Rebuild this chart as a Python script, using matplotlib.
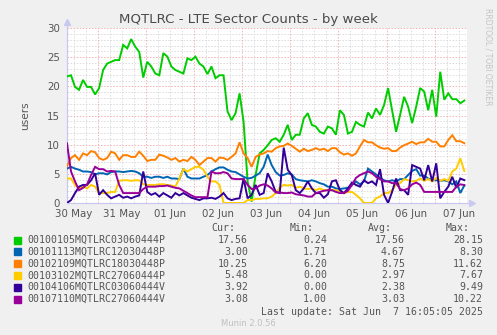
import numpy as np
import pandas as pd
import matplotlib
matplotlib.use('Agg')
import matplotlib.pyplot as plt
import matplotlib.dates as mdates

# samples every 2 hours, starting 30 May 08:45
start = pd.Timestamp('2025-05-30 08:45')
end = pd.Timestamp('2025-06-07 16:05')

# 00100105MQTLRC03060444P
green = [21.7, 21.9, 19.9, 19.4, 21.1, 19.9, 19.9, 18.6, 19.7, 22.8,
         23.9, 24.2, 24.5, 24.5, 27.1, 26.5, 28.1, 26.8, 25.9, 21.5,
         24.2, 23.4, 22.2, 21.9, 25.7, 25.1, 23.4, 22.8, 22.5, 22.2,
         24.8, 24.5, 25.1, 23.9, 23.4, 22.1, 23.4, 21.4, 21.9, 21.9,
         15.7, 14.2, 15.4, 18.8, 13.9, 3.7, 0.24, 4.8, 8.5, 9.1,
         9.9, 10.8, 11.1, 10.5, 11.7, 13.4, 10.8, 11.7, 11.7, 14.5,
         15.4, 13.4, 13.1, 12.2, 11.9, 13.1, 12.8, 11.7, 15.9, 15.1,
         11.9, 12.2, 13.9, 13.4, 13.1, 15.5, 14.5, 16.2, 15.1, 16.8,
         19.7, 15.9, 12.2, 15.1, 18.2, 16.5, 13.7, 16.5, 19.7, 19.1,
         15.9, 19.4, 14.8, 22.5, 17.7, 18.8, 17.8, 17.8, 17.1, 17.56]
# 00101113MQTLRC12030448P
blue = [5.9, 6.2, 5.9, 5.7, 5.4, 5.4, 5.3, 4.9, 5.1, 5.1,
        4.9, 5.3, 5.4, 5.4, 5.3, 5.4, 5.5, 5.4, 5.1, 4.5,
        4.5, 4.3, 4.5, 4.5, 4.3, 4.5, 4.2, 4.2, 4.1, 5.9,
        4.5, 4.2, 4.2, 4.2, 4.5, 4.8, 5.4, 5.8, 6.1, 6.1,
        5.7, 5.4, 5.3, 4.9, 4.5, 4.2, 4.3, 4.7, 5.1, 6.2,
        8.3, 6.5, 5.3, 4.7, 4.8, 5.1, 4.9, 4.1, 3.9, 3.8,
        3.7, 3.9, 3.7, 3.4, 3.2, 2.8, 2.8, 2.5, 2.4, 2.5,
        2.6, 3.1, 3.7, 3.2, 3.7, 5.9, 5.4, 4.9, 4.3, 3.9,
        3.7, 3.9, 3.7, 4.1, 4.1, 4.8, 5.5, 5.8, 4.7, 4.7,
        4.2, 3.9, 3.9, 3.8, 3.9, 3.7, 3.2, 3.7, 1.71, 3.0]
# 00102109MQTLRC18030448P
orange = [6.3, 7.7, 8.2, 7.4, 8.5, 8.2, 8.9, 8.7, 7.7, 7.4,
          7.7, 8.8, 8.5, 7.4, 8.2, 8.2, 7.9, 7.9, 8.8, 8.1,
          7.2, 7.4, 7.4, 8.3, 8.1, 7.8, 7.4, 7.7, 7.1, 7.4,
          7.2, 7.9, 7.4, 6.5, 7.1, 7.7, 7.7, 7.1, 7.8, 7.7,
          7.4, 7.9, 8.5, 10.4, 8.5, 7.7, 6.2, 7.9, 8.3, 8.5,
          8.9, 8.8, 9.4, 9.7, 9.8, 10.2, 9.8, 9.3, 8.8, 9.3,
          8.9, 9.1, 9.4, 9.1, 9.3, 8.9, 9.4, 9.4, 8.7, 8.3,
          8.5, 8.1, 8.5, 9.7, 10.8, 10.4, 10.4, 9.9, 9.5, 9.3,
          9.4, 8.9, 8.9, 9.5, 9.9, 10.2, 10.5, 10.1, 10.4, 10.4,
          11.0, 10.5, 10.5, 9.7, 9.7, 10.8, 11.62, 10.6, 10.6, 10.25]
# 00103102MQTLRC27060444P
yellow = [4.2, 4.2, 3.1, 2.5, 2.8, 2.5, 3.1, 2.8, 1.7, 1.7,
          1.7, 1.9, 1.9, 3.8, 3.9, 3.9, 3.8, 3.9, 3.9, 3.2,
          3.1, 3.1, 3.1, 3.2, 3.2, 3.1, 3.0, 2.8, 4.2, 5.8,
          5.4, 5.8, 6.2, 6.2, 5.7, 4.5, 3.7, 3.7, 3.1, 0.0,
          0.0, 0.0, 0.0, 0.0, 0.0, 0.5, 0.5, 0.7, 0.7, 0.8,
          0.8, 1.1, 1.7, 2.6, 3.1, 3.0, 3.1, 2.6, 2.8, 2.5,
          2.4, 2.5, 2.2, 2.5, 2.2, 2.2, 2.2, 2.2, 1.9, 1.7,
          1.9, 1.9, 1.4, 0.8, 0.0, 0.0, 0.0, 0.8, 1.1, 1.7,
          1.7, 2.2, 3.1, 3.4, 4.1, 3.9, 3.7, 3.8, 4.2, 3.8,
          4.1, 3.7, 4.3, 3.8, 4.1, 3.8, 5.4, 5.9, 7.67, 5.48]
# 00104106MQTLRC03060444V
indigo = [0.0, 0.5, 1.7, 2.8, 3.1, 3.1, 3.9, 5.1, 1.4, 2.2,
          1.4, 0.8, 1.1, 1.4, 0.9, 1.1, 0.8, 1.1, 1.3, 5.4,
          1.9, 1.4, 1.7, 1.1, 1.7, 1.3, 0.9, 1.7, 1.3, 1.7,
          1.3, 0.9, 0.7, 0.5, 0.8, 0.8, 0.9, 0.7, 1.1, 1.7,
          0.8, 0.5, 0.7, 0.8, 4.2, 0.8, 1.4, 3.1, 1.4, 1.7,
          5.1, 3.7, 1.9, 1.7, 9.49, 5.7, 4.8, 2.2, 1.7, 2.5,
          3.7, 2.5, 1.7, 1.7, 0.9, 1.5, 3.7, 3.9, 2.2, 1.7,
          2.5, 3.5, 3.1, 2.8, 3.9, 3.4, 3.7, 3.1, 5.8, 1.4,
          0.0, 1.9, 4.2, 2.2, 2.2, 1.4, 6.5, 6.2, 5.9, 3.9,
          6.5, 3.7, 6.8, 0.8, 1.9, 2.8, 4.5, 2.6, 4.2, 3.92]
# 00107110MQTLRC27060444V
purple = [10.22, 5.4, 3.7, 2.2, 2.6, 3.2, 4.8, 6.2, 5.8, 5.8,
          5.4, 5.5, 5.4, 3.1, 1.7, 1.7, 1.7, 1.7, 1.7, 2.4,
          2.8, 2.8, 2.8, 2.9, 2.9, 3.0, 2.8, 2.6, 2.5, 2.1,
          1.7, 1.3, 1.0, 1.0, 1.0, 1.0, 5.4, 5.1, 5.1, 5.3,
          5.1, 4.2, 4.1, 4.1, 4.1, 3.1, 2.4, 2.5, 3.0, 3.2,
          3.0, 2.5, 1.8, 1.8, 1.7, 1.7, 1.8, 1.5, 1.4, 1.3,
          1.1, 1.1, 1.7, 1.9, 2.1, 2.2, 2.2, 1.9, 1.7, 1.7,
          2.1, 3.1, 4.3, 4.8, 5.1, 5.4, 5.1, 4.5, 4.1, 3.7,
          3.7, 3.4, 3.4, 2.4, 2.2, 2.5, 3.2, 3.5, 3.1, 1.9,
          1.9, 1.9, 1.9, 1.9, 1.9, 1.9, 1.9, 2.8, 3.2, 3.08]

names = ['00100105MQTLRC03060444P', '00101113MQTLRC12030448P',
         '00102109MQTLRC18030448P', '00103102MQTLRC27060444P',
         '00104106MQTLRC03060444V', '00107110MQTLRC27060444V']
colors = ['#00CC00', '#0066B3', '#FF8000', '#FFCC00', '#330099', '#990099']
series = [green, blue, orange, yellow, indigo, purple]
cur = ['17.56', '3.00', '10.25', '5.48', '3.92', '3.08']
mins = ['0.24', '1.71', '6.20', '0.00', '0.00', '1.00']
avgs = ['17.56', '4.67', '8.75', '2.97', '2.38', '3.03']
maxs = ['28.15', '8.30', '11.62', '7.67', '9.49', '10.22']

times = pd.date_range(start, periods=len(green), freq='2h')

W, H = 497, 335
fig = plt.figure(figsize=(W / 100, H / 100), dpi=100, facecolor='#F0F0F0')
ax = fig.add_axes([67 / W, 1 - 203 / H, 400 / W, 175 / H])
ax.set_facecolor('white')

for s, c in zip(series, colors):
    ax.plot(times, s, color=c, lw=1.4, solid_joinstyle='miter', zorder=3)

ax.set_xlim(start, end)
ax.set_ylim(0, 30)
ax.set_yticks(range(0, 31, 5))
ax.set_yticks(range(0, 31), minor=True)
ax.xaxis.set_major_locator(mdates.HourLocator(byhour=[12]))
ax.xaxis.set_major_formatter(mdates.DateFormatter('%d %b'))
ax.xaxis.set_minor_locator(mdates.HourLocator(byhour=[0, 6, 12, 18]))

# grid: grey minor, red major
for v in range(0, 31):
    c = '#F0A0A0' if v % 5 == 0 else '#D4D4D4'
    ax.axhline(v, color=c, lw=0.55, ls=(0, (2, 2)), zorder=1)
for t in pd.date_range('2025-05-30 12:00', end, freq='6h'):
    c = '#F0A0A0' if t.hour == 0 else '#D4D4D4'
    ax.axvline(t, color=c, lw=0.55, ls=(0, (2, 2)), zorder=1)

ax.tick_params(axis='both', which='both', length=0, labelsize=7.4, colors='#555555')
ax.tick_params(axis='y', pad=5)
ax.tick_params(axis='x', pad=4)
for sp in ['top', 'right']:
    ax.spines[sp].set_visible(False)
for sp in ['left', 'bottom']:
    ax.spines[sp].set_color('#C8C8F0')
    ax.spines[sp].set_linewidth(0.8)
ax.plot([0, 0], [0, 1.035], color='#C8C8F0', lw=0.8, transform=ax.transAxes, clip_on=False)
ax.plot([0, 1.012], [0, 0], color='#C8C8F0', lw=0.8, transform=ax.transAxes, clip_on=False)
ax.plot([0], [1.035], marker='^', ms=4, color='#C8C8F0', transform=ax.transAxes, clip_on=False)
ax.plot([1.012], [0], marker='>', ms=4, color='#C8C8F0', transform=ax.transAxes, clip_on=False)

ax.set_ylabel('users', fontsize=7.6, color='#555555', labelpad=12)

def px(x, y):
    return x / W, 1 - y / H

fig.text(*px(248, 19), 'MQTLRC - LTE Sector Counts - by week', ha='center', va='center',
         fontsize=9.6, color='#4A4A4A')
fig.text(*px(488, 8), 'RRDTOOL / TOBI OETIKER', ha='center', va='top', rotation=270,
         fontsize=5.5, color='#C4C4C4')

mono = dict(family='DejaVu Sans Mono', fontsize=7.1, color='#555555', va='center')
heads = [(235, 'Cur:'), (314, 'Min:'), (392, 'Avg:'), (470, 'Max:')]
for x, t in heads:
    fig.text(*px(x, 228), t, ha='right', **mono)

for i in range(len(names)):
    y = 240 + i * 11.8
    fig.patches.append(plt.Rectangle(px(14, y + 3.5), 7 / W, 7 / H, color=colors[i],
                                     transform=fig.transFigure, figure=fig))
    fig.text(*px(27, y), names[i], ha='left', **mono)
    fig.text(*px(248, y), cur[i], ha='right', **mono)
    fig.text(*px(327, y), mins[i], ha='right', **mono)
    fig.text(*px(405, y), avgs[i], ha='right', **mono)
    fig.text(*px(483, y), maxs[i], ha='right', **mono)

fig.text(*px(483, 311.7), 'Last update: Sat Jun  7 16:05:05 2025', ha='right', **mono)
fig.text(*px(248, 324), 'Munin 2.0.56', ha='center', va='center', fontsize=6,
         color='#C0C0C0')

fig.savefig('out.png', dpi=100, facecolor=fig.get_facecolor())
